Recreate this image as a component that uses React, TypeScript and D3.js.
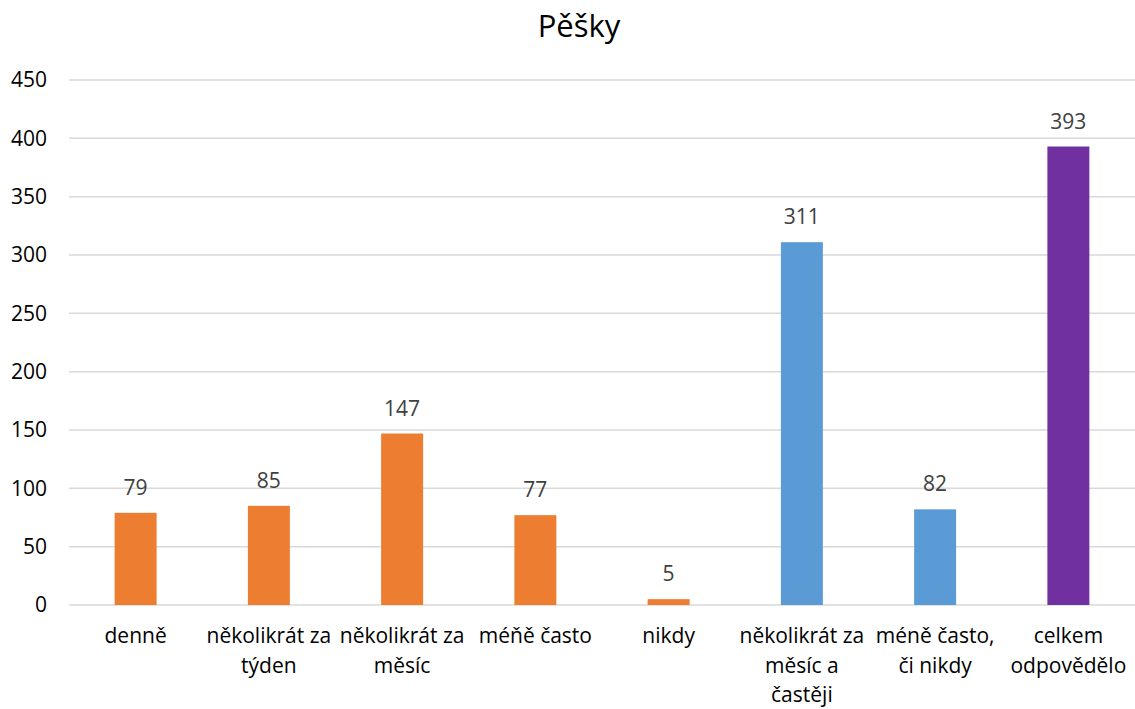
import React from 'react';
import * as d3 from 'd3';

const title = 'Pěšky';
const categories = [
  'denně',
  'několikrát za\ntýden',
  'několikrát za\nměsíc',
  'méňě často',
  'nikdy',
  'několikrát za\nměsíc a\nčastěji',
  'méně často,\nči nikdy',
  'celkem\nodpovědělo',
];
const values = [79, 85, 147, 77, 5, 311, 82, 393];
const barColors = ['#ED7D31', '#ED7D31', '#ED7D31', '#ED7D31', '#ED7D31', '#5B9BD5', '#5B9BD5', '#7030A0'];
const yTicks = [0, 50, 100, 150, 200, 250, 300, 350, 400, 450];

const width = 1135;
const height = 709;
const margin = { top: 80, right: 0, bottom: 104, left: 69 };
const font = '"Open Sans", sans-serif';

const App = () => {
  const x = d3
    .scaleBand()
    .domain(categories)
    .range([margin.left, width - margin.right])
    .padding(0);

  const y = d3
    .scaleLinear()
    .domain([0, 450])
    .range([height - margin.bottom, margin.top]);

  const barW = x.bandwidth() * 0.315;

  return (
    <svg width={width} height={height} style={{ position: 'absolute', left: 0, top: 0 }} fontFamily={font}>
      <rect width={width} height={height} fill="#fff" />
      <text x={579} y={37} textAnchor="middle" fontSize={31} fill="#000">{title}</text>

      {yTicks.map(t => (
        <g key={t}>
          <line x1={margin.left} x2={width - margin.right} y1={y(t)} y2={y(t)} stroke="#D9D9D9" strokeWidth={1.5} />
          <text x={47} y={y(t)} dy="0.35em" textAnchor="end" fontSize={21} fill="#000">{t}</text>
        </g>
      ))}

      {categories.map((c, i) => {
        const cx = x(c)! + x.bandwidth() / 2;
        return (
          <g key={c}>
            <rect x={cx - barW / 2} y={y(values[i])} width={barW} height={y(0) - y(values[i])} fill={barColors[i]} />
            <text x={cx} y={y(values[i]) - 18} textAnchor="middle" fontSize={21} fill="#404040">{values[i]}</text>
            <text x={cx} y={height - margin.bottom + 38} textAnchor="middle" fontSize={21} fill="#000">
              {c.split('\n').map((line, j) => (
                <tspan key={j} x={cx} dy={j === 0 ? 0 : 29.5}>{line}</tspan>
              ))}
            </text>
          </g>
        );
      })}
    </svg>
  );
};

export default App;
